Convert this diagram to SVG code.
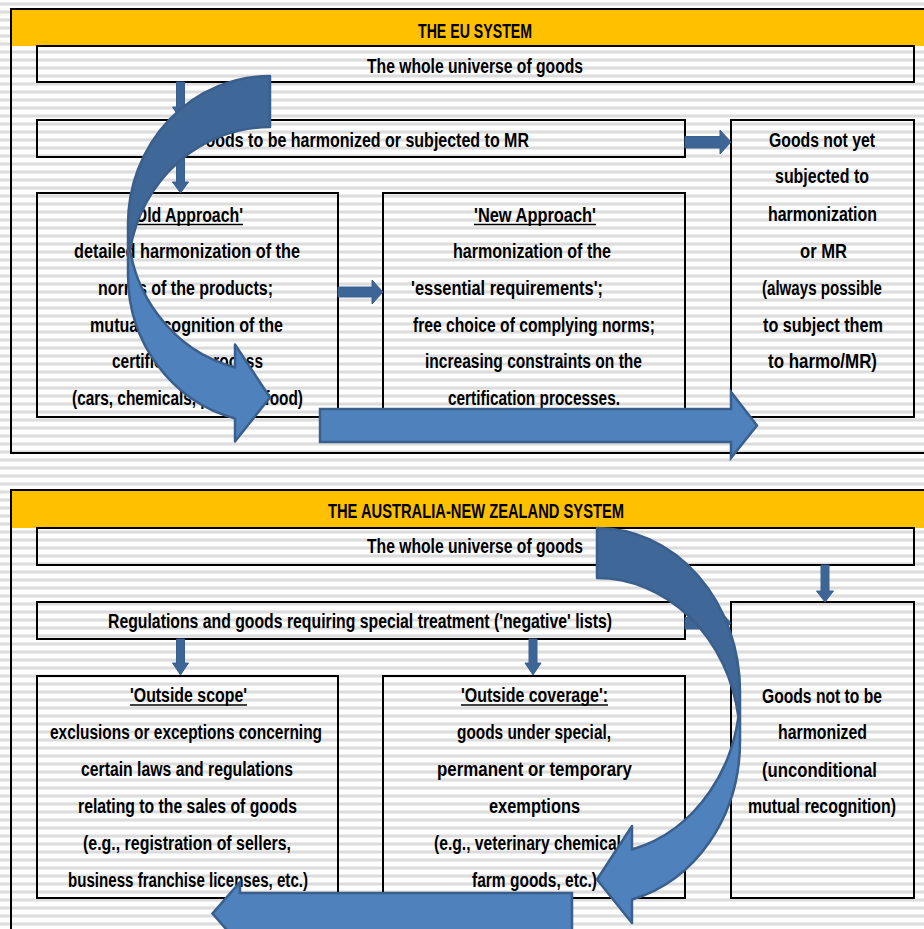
<svg xmlns="http://www.w3.org/2000/svg" width="924" height="929" viewBox="0 0 924 929">
<defs>
<pattern id="stripes" width="8" height="8" patternUnits="userSpaceOnUse">
<rect width="8" height="8" fill="#ffffff"/>
<rect y="2" width="8" height="1" fill="#ececec"/>
<rect y="3" width="8" height="2" fill="#dcdcdc"/>
<rect y="5" width="8" height="1" fill="#ececec"/>
</pattern>
<style>
.box{fill:none;stroke:#000;stroke-width:2}
.panel{fill:none;stroke:#000;stroke-width:2}
.hdr{fill:#FFC000}
text{font-family:"Liberation Sans Narrow","Liberation Sans",Arial,sans-serif;font-weight:bold;font-size:20px;fill:#000}
.ul{stroke:#000;stroke-width:1.5}
.small{fill:#3D6595;stroke:#3A6090;stroke-width:1}
.big{fill:#4F81BD;stroke:#3A5F8C;stroke-width:2.5;stroke-linejoin:miter}
.dark{fill:#3F6797;stroke:none}
.light{fill:#4F81BD;stroke:none}
.outl{fill:none;stroke:#3A5F8C;stroke-width:2.5;stroke-linejoin:round}
</style>
</defs>
<rect width="924" height="929" fill="url(#stripes)"/>

<g id="eu-panel">
<rect class="hdr" x="11" y="9" width="920" height="37"/>
<rect class="panel" x="11" y="9" width="930" height="444"/>
<text x="418" y="38" textLength="114" lengthAdjust="spacingAndGlyphs">THE EU SYSTEM</text>
</g>
<g id="eu-universe">
<rect class="box" x="37" y="46" width="877" height="36"/>
<text x="367" y="72.5" textLength="216" lengthAdjust="spacingAndGlyphs">The whole universe of goods</text>
</g>
<g id="eu-harmonized">
<rect class="box" x="37" y="120" width="648" height="37"/>
<text x="193" y="146.5" textLength="336" lengthAdjust="spacingAndGlyphs">Goods to be harmonized or subjected to MR</text>
</g>
<g id="eu-notyet">
<rect class="box" x="731" y="120" width="183" height="297"/>
<text x="769" y="146.5" textLength="106" lengthAdjust="spacingAndGlyphs">Goods not yet</text>
<text x="775" y="183.3" textLength="94" lengthAdjust="spacingAndGlyphs">subjected to</text>
<text x="768" y="221" textLength="109" lengthAdjust="spacingAndGlyphs">harmonization</text>
<text x="800" y="258" textLength="47" lengthAdjust="spacingAndGlyphs">or MR</text>
<text x="762" y="295" textLength="120" lengthAdjust="spacingAndGlyphs">(always possible</text>
<text x="763" y="331.7" textLength="120" lengthAdjust="spacingAndGlyphs">to subject them</text>
<text x="768" y="368.3" textLength="109" lengthAdjust="spacingAndGlyphs">to harmo/MR)</text>
</g>
<g id="eu-old">
<rect class="box" x="37" y="193" width="301" height="224"/>
<text x="131" y="221.5" textLength="112" lengthAdjust="spacingAndGlyphs">'Old Approach'</text>
<line class="ul" x1="131" y1="224.5" x2="243" y2="224.5"/>
<text x="74" y="258" textLength="226" lengthAdjust="spacingAndGlyphs">detailed harmonization of the</text>
<text x="98" y="294.5" textLength="175" lengthAdjust="spacingAndGlyphs">norms of the products;</text>
<text x="90" y="331.5" textLength="193" lengthAdjust="spacingAndGlyphs">mutual recognition of the</text>
<text x="112" y="368" textLength="151" lengthAdjust="spacingAndGlyphs">certification process</text>
<text x="72" y="405" textLength="231" lengthAdjust="spacingAndGlyphs">(cars, chemicals, pharma, food)</text>
</g>
<g id="eu-new">
<rect class="box" x="383" y="193" width="302" height="224"/>
<text x="474" y="221.5" textLength="122" lengthAdjust="spacingAndGlyphs">'New Approach'</text>
<line class="ul" x1="474" y1="224.5" x2="596" y2="224.5"/>
<text x="453" y="258" textLength="158" lengthAdjust="spacingAndGlyphs">harmonization of the</text>
<text x="411" y="295" textLength="192" lengthAdjust="spacingAndGlyphs">'essential requirements';</text>
<text x="413" y="331.7" textLength="242" lengthAdjust="spacingAndGlyphs">free choice of complying norms;</text>
<text x="425" y="368" textLength="217" lengthAdjust="spacingAndGlyphs">increasing constraints on the</text>
<text x="448" y="405" textLength="172" lengthAdjust="spacingAndGlyphs">certification processes.</text>
</g>

<g id="anz-panel">
<rect class="hdr" x="11" y="490" width="920" height="38"/>
<rect class="panel" x="11" y="490" width="930" height="460"/>
<text x="328" y="518" textLength="296" lengthAdjust="spacingAndGlyphs">THE AUSTRALIA-NEW ZEALAND SYSTEM</text>
</g>
<g id="anz-universe">
<rect class="box" x="37" y="528" width="877" height="37"/>
<text x="367" y="553.3" textLength="216" lengthAdjust="spacingAndGlyphs">The whole universe of goods</text>
</g>
<g id="anz-regulations">
<rect class="box" x="37" y="602" width="648" height="37"/>
<text x="108" y="628.3" textLength="504" lengthAdjust="spacingAndGlyphs">Regulations and goods requiring special treatment ('negative' lists)</text>
</g>
<g id="anz-nottobe">
<rect class="box" x="731" y="602" width="183" height="296"/>
<text x="762" y="702.7" textLength="120" lengthAdjust="spacingAndGlyphs">Goods not to be</text>
<text x="778" y="739.3" textLength="89" lengthAdjust="spacingAndGlyphs">harmonized</text>
<text x="762" y="776.7" textLength="115" lengthAdjust="spacingAndGlyphs">(unconditional</text>
<text x="748" y="813.3" textLength="148" lengthAdjust="spacingAndGlyphs">mutual recognition)</text>
</g>
<g id="anz-scope">
<rect class="box" x="37" y="676" width="301" height="222"/>
<text x="130" y="701.7" textLength="117" lengthAdjust="spacingAndGlyphs">'Outside scope'</text>
<line class="ul" x1="130" y1="705" x2="247" y2="705"/>
<text x="50" y="739" textLength="272" lengthAdjust="spacingAndGlyphs">exclusions or exceptions concerning</text>
<text x="81" y="776" textLength="212" lengthAdjust="spacingAndGlyphs">certain laws and regulations</text>
<text x="78" y="813" textLength="219" lengthAdjust="spacingAndGlyphs">relating to the sales of goods</text>
<text x="83" y="850" textLength="208" lengthAdjust="spacingAndGlyphs">(e.g., registration of sellers,</text>
<text x="68" y="886.7" textLength="240" lengthAdjust="spacingAndGlyphs">business franchise licenses, etc.)</text>
</g>
<g id="anz-coverage">
<rect class="box" x="383" y="676" width="302" height="222"/>
<text x="461" y="701.7" textLength="147" lengthAdjust="spacingAndGlyphs">'Outside coverage':</text>
<line class="ul" x1="461" y1="705" x2="608" y2="705"/>
<text x="457" y="739" textLength="154" lengthAdjust="spacingAndGlyphs">goods under special,</text>
<text x="437" y="776" textLength="195" lengthAdjust="spacingAndGlyphs">permanent or temporary</text>
<text x="489" y="813" textLength="91" lengthAdjust="spacingAndGlyphs">exemptions</text>
<text x="434" y="850" textLength="200" lengthAdjust="spacingAndGlyphs">(e.g., veterinary chemicals,</text>
<text x="472" y="886.7" textLength="125" lengthAdjust="spacingAndGlyphs">farm goods, etc.)</text>
</g>

<g id="connectors">
<polygon class="small" points="176.5,82 184.5,82 184.5,107 188.5,107 180.5,119 172.5,107 176.5,107"/>
<polygon class="small" points="176.5,157 184.5,157 184.5,182 188.5,182 180.5,193 172.5,182 176.5,182"/>
<polygon class="small" points="685,136.5 720,136.5 720,130 731,142 720,154 720,148 685,148"/>
<polygon class="small" points="338,287 372,287 372,280 383,292 372,304 372,297 338,297"/>
<polygon class="small" points="176.5,639 184.5,639 184.5,663 188.5,663 180.5,675 172.5,663 176.5,663"/>
<polygon class="small" points="529,639 537,639 537,663 541,663 533,675 525,663 529,663"/>
<polygon class="small" points="821,565 829,565 829,591 833.5,591 825,602 816.5,591 821,591"/>
<polygon class="small" points="685,617.5 720,617.5 720,611 731,623 720,635 720,629 685,629"/>

<g id="eu-curved">
<path class="light" d="M128,224 A142 148 0 0 0 235,367.43 L235,344.43 L270,397.5 L235,441.43 L235,418.43 A142 148 0 0 1 128,275 Z"/>
<path class="dark" d="M270,127 A142 148 0 0 0 130.12,249.5 A142 148 0 0 1 270,76 Z"/>
<path class="outl" d="M128,224 A142 148 0 0 0 235,367.43 L235,344.43 L270,397.5 L235,441.43 L235,418.43 A142 148 0 0 1 128,275 L128,224 A142 148 0 0 1 270,76 L270,127 A142 148 0 0 0 130.12,249.5"/>
</g>
<polygon class="big" points="320,409 731,409 731,392 757,425.5 731,458 731,442 320,442"/>

<g id="anz-curved" transform="translate(1337,0) scale(-1,1)">
<path class="light" d="M597,691.25 A143 163.25 0 0 0 705,849.54 L705,826.04 L740,879.5 L705,923.04 L705,899.54 A143 163.25 0 0 1 597,741.25 Z"/>
<path class="dark" d="M740,578 A143 163.25 0 0 0 598.69,716.25 A143 163.25 0 0 1 740,528 Z"/>
<path class="outl" d="M597,691.25 A143 163.25 0 0 0 705,849.54 L705,826.04 L740,879.5 L705,923.04 L705,899.54 A143 163.25 0 0 1 597,741.25 L597,691.25 A143 163.25 0 0 1 740,528 L740,578 A143 163.25 0 0 0 598.69,716.25"/>
</g>
<polygon class="big" points="572,893 240,893 240,882 212.5,913.5 240,945 240,934 572,934"/>
</g>
</svg>
